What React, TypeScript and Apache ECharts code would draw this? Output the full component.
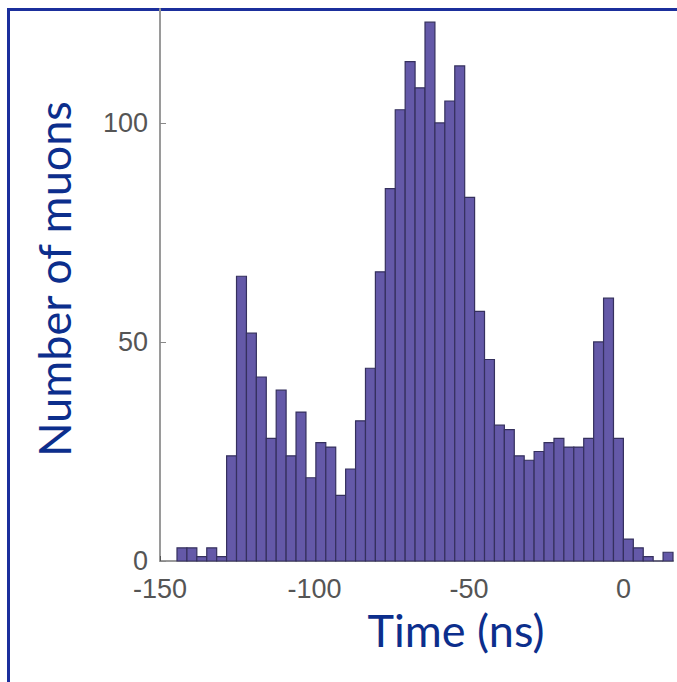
import React, { useEffect, useRef } from "react";
import * as echarts from "echarts";

// Histogram of muon arrival times
const binStart = -144.5; // ns, left edge of first bin
const binWidth = 3.21; // ns
const counts = [
  3, 3, 1, 3, 1, 24, 65, 52, 42, 28,
  39, 24, 34, 19, 27, 26, 15, 21, 32, 44,
  66, 85, 103, 114, 108, 123, 100, 105, 113, 83,
  57, 46, 31, 30, 24, 23, 25, 27, 28, 26,
  26, 28, 50, 60, 28, 5, 3, 1, 0, 2,
];
const xTicks = [-150, -100, -50, 0];
const yTicks = [0, 50, 100];
const xTitle = "Time (ns)";
const yTitle = "Number of muons";

export default function App() {
  const ref = useRef<HTMLDivElement>(null);
  useEffect(() => {
    document.body.style.margin = "0";
    const chart = echarts.init(ref.current!, null, { renderer: "svg" });
    const data = counts.map((c, i) => [binStart + i * binWidth, binStart + (i + 1) * binWidth, c]);
    const labelStyle = {
      fontFamily: "'Liberation Sans', Arial, sans-serif",
      fontSize: 27,
      lineHeight: 24,
      color: "#555",
    };
    chart.setOption({
      animation: false,
      backgroundColor: "#fff",
      grid: { left: 160, right: 4, top: 9, bottom: 121, containLabel: false },
      xAxis: {
        type: "value",
        min: xTicks[0],
        max: 16,
        interval: 50,
        axisLine: { show: true, onZero: false, lineStyle: { color: "#9a9a9a", width: 2 } },
        axisTick: { show: true, inside: true, length: 5, lineStyle: { color: "#555" } },
        splitLine: { show: false },
        axisLabel: { ...labelStyle, margin: 16, showMaxLabel: false },
      },
      yAxis: {
        type: "value",
        min: yTicks[0],
        max: 126,
        interval: 50,
        axisLine: { show: true, onZero: false, lineStyle: { color: "#9a9a9a", width: 2 } },
        axisTick: { show: true, inside: true, length: 6, lineStyle: { color: "#888" } },
        splitLine: { show: false },
        axisLabel: { ...labelStyle, margin: 12, showMaxLabel: false },
      },
      series: [
        {
          type: "custom",
          data,
          encode: { x: [0, 1], y: 2 },
          renderItem: (params: any, api: any) => {
            const p0 = api.coord([api.value(0), api.value(2)]);
            const p1 = api.coord([api.value(1), 0]);
            return {
              type: "rect",
              shape: { x: p0[0], y: p0[1], width: p1[0] - p0[0], height: p1[1] - p0[1] },
              style: { fill: "#6459a8", stroke: "#35305e", lineWidth: 1.2 },
            };
          },
        },
      ],
      graphic: [
        { type: "rect", shape: { x: 7, y: 8, width: 680, height: 3 }, style: { fill: "#1b2f9c" } },
        { type: "rect", shape: { x: 7, y: 8, width: 3, height: 700 }, style: { fill: "#1b2f9c" } },
        {
          type: "text",
          x: 54,
          y: 279,
          rotation: Math.PI / 2,
          style: {
            text: yTitle,
            fontFamily: "Lato, 'Open Sans', sans-serif",
            fontSize: 45,
            fill: "#0c2e8c",
            textAlign: "center",
            textVerticalAlign: "middle",
          },
        },
        {
          type: "text",
          x: 456,
          y: 630,
          style: {
            text: xTitle,
            fontFamily: "Lato, 'Open Sans', sans-serif",
            fontSize: 45,
            fill: "#0c2e8c",
            textAlign: "center",
            textVerticalAlign: "middle",
          },
        },
      ],
    });
    return () => chart.dispose();
  }, []);
  return <div ref={ref} style={{ width: 677, height: 682 }} />;
}
